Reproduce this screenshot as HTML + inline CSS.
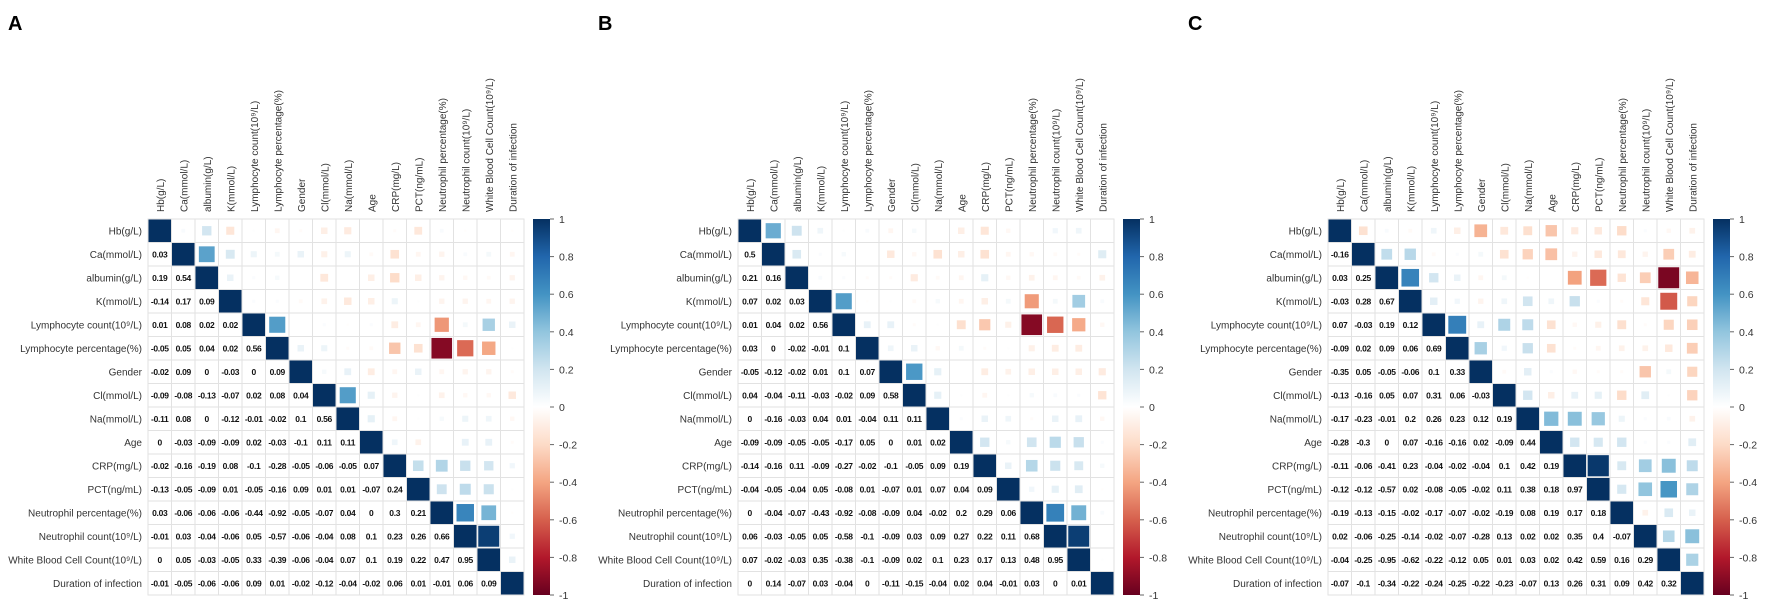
<!DOCTYPE html>
<html><head><meta charset="utf-8">
<style>
html,body{margin:0;padding:0;background:#fff;}
svg{display:block;font-family:"Liberation Sans",sans-serif;}
</style></head>
<body>
<svg id="chart" width="1772" height="610" viewBox="0 0 1772 610" xmlns="http://www.w3.org/2000/svg"></svg>
<script>
const labels = ["Hb(g/L)","Ca(mmol/L)","albumin(g/L)","K(mmol/L)","Lymphocyte count(10⁹/L)","Lymphocyte percentage(%)","Gender","Cl(mmol/L)","Na(mmol/L)","Age","CRP(mg/L)","PCT(ng/mL)","Neutrophil percentage(%)","Neutrophil count(10⁹/L)","White Blood Cell Count(10⁹/L)","Duration of infection"];
const valsA = [[],
[0.03],
[0.19,0.54],
[-0.14,0.17,0.09],
[0.01,0.08,0.02,0.02],
[-0.05,0.05,0.04,0.02,0.56],
[-0.02,0.09,0,-0.03,0,0.09],
[-0.09,-0.08,-0.13,-0.07,0.02,0.08,0.04],
[-0.11,0.08,0,-0.12,-0.01,-0.02,0.1,0.56],
[0,-0.03,-0.09,-0.09,0.02,-0.03,-0.1,0.11,0.11],
[-0.02,-0.16,-0.19,0.08,-0.1,-0.28,-0.05,-0.06,-0.05,0.07],
[-0.13,-0.05,-0.09,0.01,-0.05,-0.16,0.09,0.01,0.01,-0.07,0.24],
[0.03,-0.06,-0.06,-0.06,-0.44,-0.92,-0.05,-0.07,0.04,0,0.3,0.21],
[-0.01,0.03,-0.04,-0.06,0.05,-0.57,-0.06,-0.04,0.08,0.1,0.23,0.26,0.66],
[0,0.05,-0.03,-0.05,0.33,-0.39,-0.06,-0.04,0.07,0.1,0.19,0.22,0.47,0.95],
[-0.01,-0.05,-0.06,-0.06,0.09,0.01,-0.02,-0.12,-0.04,-0.02,0.06,0.01,-0.01,0.06,0.09]];
const valsB = [[],
[0.5],
[0.21,0.16],
[0.07,0.02,0.03],
[0.01,0.04,0.02,0.56],
[0.03,0,-0.02,-0.01,0.1],
[-0.05,-0.12,-0.02,0.01,0.1,0.07],
[0.04,-0.04,-0.11,-0.03,-0.02,0.09,0.58],
[0,-0.16,-0.03,0.04,0.01,-0.04,0.11,0.11],
[-0.09,-0.09,-0.05,-0.05,-0.17,0.05,0,0.01,0.02],
[-0.14,-0.16,0.11,-0.09,-0.27,-0.02,-0.1,-0.05,0.09,0.19],
[-0.04,-0.05,-0.04,0.05,-0.08,0.01,-0.07,0.01,0.07,0.04,0.09],
[0,-0.04,-0.07,-0.43,-0.92,-0.08,-0.09,0.04,-0.02,0.2,0.29,0.06],
[0.06,-0.03,-0.05,0.05,-0.58,-0.1,-0.09,0.03,0.09,0.27,0.22,0.11,0.68],
[0.07,-0.02,-0.03,0.35,-0.38,-0.1,-0.09,0.02,0.1,0.23,0.17,0.13,0.48,0.95],
[0,0.14,-0.07,0.03,-0.04,0,-0.11,-0.15,-0.04,0.02,0.04,-0.01,0.03,0,0.01]];
const valsC = [[],
[-0.16],
[0.03,0.25],
[-0.03,0.28,0.67],
[0.07,-0.03,0.19,0.12],
[-0.09,0.02,0.09,0.06,0.69],
[-0.35,0.05,-0.05,-0.06,0.1,0.33],
[-0.13,-0.16,0.05,0.07,0.31,0.06,-0.03],
[-0.17,-0.23,-0.01,0.2,0.26,0.23,0.12,0.19],
[-0.28,-0.3,0,0.07,-0.16,-0.16,0.02,-0.09,0.44],
[-0.11,-0.06,-0.41,0.23,-0.04,-0.02,-0.04,0.1,0.42,0.19],
[-0.12,-0.12,-0.57,0.02,-0.08,-0.05,-0.02,0.11,0.38,0.18,0.97],
[-0.19,-0.13,-0.15,-0.02,-0.17,-0.07,-0.02,-0.19,0.08,0.19,0.17,0.18],
[0.02,-0.06,-0.25,-0.14,-0.02,-0.07,-0.28,0.13,0.02,0.02,0.35,0.4,-0.07],
[-0.04,-0.25,-0.95,-0.62,-0.22,-0.12,0.05,0.01,0.03,0.02,0.42,0.59,0.16,0.29],
[-0.07,-0.1,-0.34,-0.22,-0.24,-0.25,-0.22,-0.23,-0.07,0.13,0.26,0.31,0.09,0.42,0.32]];
const panelLetters = ["A","B","C"];
const colorbarTicks = [1,0.8,0.6,0.4,0.2,0,-0.2,-0.4,-0.6,-0.8,-1];

const NS = "http://www.w3.org/2000/svg";
const svg = document.getElementById("chart");
const palette = ["#67001F","#B2182B","#D6604D","#F4A582","#FDDBC7","#FFFFFF","#D1E5F0","#92C5DE","#4393C3","#2166AC","#053061"];
function hex(c){return [parseInt(c.substr(1,2),16),parseInt(c.substr(3,2),16),parseInt(c.substr(5,2),16)];}
function colorFor(v){
  const t=(Math.max(-1,Math.min(1,v))+1)/2*10;
  const i=Math.min(9,Math.floor(t)), f=t-i;
  const a=hex(palette[i]), b=hex(palette[i+1]);
  return "rgb("+a.map((x,k)=>Math.round(x+(b[k]-x)*f)).join(",")+")";
}
function el(tag,attrs,parent){const e=document.createElementNS(NS,tag);for(const k in attrs)e.setAttribute(k,attrs[k]);(parent||svg).appendChild(e);return e;}

const CELL=23.5, N=labels.length, GY=219;
const panelX=[148,738,1328];
const datasets=[valsA,valsB,valsC];
function corr(vals,i,j){ if(i===j) return 1; return i>j? vals[i][j] : vals[j][i]; }

datasets.forEach((vals,p)=>{
  const gx=panelX[p];
  const xScale=j=>gx+j*CELL, yScale=i=>GY+i*CELL;
  const g=el("g",{});
  
  
  const letter=el("text",{x:panelX[p]-140,y:30,"font-size":"20","font-weight":"bold",fill:"#000"},g);
  letter.textContent=panelLetters[p];
  
  
  for(let i=0;i<N;i++){for(let j=0;j<N;j++){
    const r=el("rect",{x:xScale(j),y:yScale(i),width:CELL,height:CELL,fill:"#fff",stroke:"#e2e2e2","stroke-width":"1"},g);
    
    
  }}
  for(let i=0;i<N;i++){
    const rl=el("text",{x:gx-6,y:yScale(i)+CELL/2+3.5,"text-anchor":"end","font-size":"10",fill:"#333"},g);
    rl.textContent=labels[i];
    
    
    const cxl=xScale(i)+CELL/2+4;
    const cl=el("text",{x:cxl,y:212,"font-size":"10",fill:"#333",transform:"rotate(-90 "+cxl+" 212)"},g);
    cl.textContent=labels[i];
    
    
  }
  for(let i=0;i<N;i++){for(let j=0;j<N;j++){
    const v=corr(vals,i,j);
    if(i>j){
      const t=el("text",{x:xScale(j)+CELL/2,y:yScale(i)+CELL/2+3,"text-anchor":"middle","font-size":"8.5","font-weight":"bold","letter-spacing":"-0.3",fill:"#111"},g);
      t.textContent=String(v);
      
      
    } else {
      const s=(i===j? CELL-1 : (CELL-2)*Math.sqrt(Math.abs(v)));
      if(s<0.5) continue;
      const sq=el("rect",{x:xScale(j)+(CELL-s)/2,y:yScale(i)+(CELL-s)/2,width:s,height:s,fill:colorFor(v)},g);
      
      
    }
  }}
  const cbx=gx+N*CELL+9, cbw=17, cbTop=GY, cbH=N*CELL;
  const grad=el("linearGradient",{id:"cb"+p,x1:"0",y1:"0",x2:"0",y2:"1"},el("defs",{},g));
  palette.slice().reverse().forEach((c,k)=>el("stop",{offset:(k/10),"stop-color":c},grad));
  const cb=el("rect",{x:cbx,y:cbTop,width:cbw,height:cbH,fill:"url(#cb"+p+")"},g);
  
  
  const cy=v=>cbTop+(1-v)/2*cbH;
  colorbarTicks.forEach(v=>{
    el("line",{x1:cbx+cbw,x2:cbx+cbw+4,y1:cy(v),y2:cy(v),stroke:"#666","stroke-width":"1"},g);
    const tl=el("text",{x:cbx+cbw+9,y:cy(v)+4,"font-size":"10.5",fill:"#333"},g);
    tl.textContent=String(v);
    
    
  });
});
</script>
</body></html>
